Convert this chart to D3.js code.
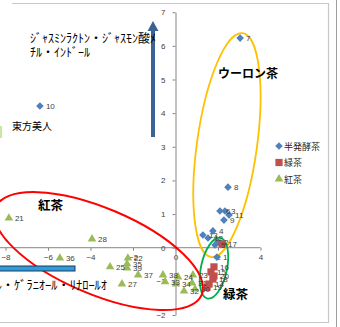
<!DOCTYPE html>
<html><head><meta charset="utf-8">
<script src="https://cdn.jsdelivr.net/npm/d3@7"></script>
<style>
html,body{margin:0;padding:0;background:#fff;}
svg{display:block;}
</style></head>
<body>
<script>
// ---- data ----
const semiLabels = [1,2,3,4,5,6,7,8,9,10,11,12,13];
const semiX = [1.95,2.00,2.33,1.76,1.86,2.09,3.04,2.47,2.28,-6.38,2.52,1.53,1.29];
const semiY = [-0.28,0.17,1.09,0.50,0.08,1.09,6.23,1.80,0.82,4.21,0.97,0.29,0.38];

const greenLabels = [14,15,16,17,18,19,20];
const greenX = [1.58,1.67,1.81,2.19,1.76,1.48,1.81];
const greenY = [-1.08,-0.72,-0.57,0.11,-0.93,-1.18,-0.84];

const blackLabels = [21,22,23,24,25,27,28,30,31,32,33,34,35,36,37,38,39];
const blackX = [-7.84,-2.24,0.82,0.12,-3.08,-2.52,-3.93,0.92,0.78,0.40,-0.49,0.02,-2.28,-5.44,-1.76,-0.59,-2.28];
const blackY = [0.88,-0.31,-0.81,-0.87,-0.57,-1.08,0.26,-1.23,-1.05,-1.29,-1.01,-1.08,-0.48,-0.31,-0.81,-0.81,-0.60];

const seriesNames = ["半発酵茶","緑茶","紅茶"];
const xTicks = [-10,-8,-6,-4,-2,0,2,4];
const yTicks = [-2,-1,0,1,2,3,4,5,6,7];

// ---- setup ----
const W = 340, H = 327;
const svg = d3.select("body").append("svg").attr("width", W).attr("height", H);
const x = d3.scaleLinear().domain([-10, 4]).range([-37, 260.5]);
const y = d3.scaleLinear().domain([-2, 7]).range([315, 12.2]);

const numFont = "'Liberation Sans', Arial, sans-serif";
const jpFont = "'Noto Sans CJK JP', sans-serif";

// chart border
svg.append("path").attr("d", "M12,3.5H328.5V322.5H0").attr("fill","none").attr("stroke","#c8c8c8").attr("stroke-width",1.2);
svg.append("line").attr("x1",336.5).attr("x2",336.5).attr("y1",0).attr("y2",H).attr("stroke","#a0a0a0").attr("stroke-width",1);

// axes
const axisColor = "#868686";
const gx = svg.append("g").attr("transform", `translate(0,${y(0)})`)
  .call(d3.axisBottom(x).tickValues(xTicks).tickSize(3).tickSizeOuter(0).tickPadding(4).tickFormat(d3.format("d")));
const gy = svg.append("g").attr("transform", `translate(${x(0)},0)`)
  .call(d3.axisLeft(y).tickValues(yTicks).tickSize(3).tickSizeOuter(0).tickPadding(7).tickFormat(d3.format("d")));
[gx, gy].forEach(g => {
  g.selectAll("path,line").attr("stroke", axisColor);
  g.selectAll("text").attr("fill", "#404040").style("font-family", numFont).style("font-size", "8px");
});
gx.select(".domain").attr("d", `M${x(-10)},0H${x(4)}`);

// ellipses (drawing-layer annotations, anchored in data space)
function ellipse(cx, cy, rx, ry, rot, color, sw) {
  svg.append("ellipse").attr("cx", 0).attr("cy", 0).attr("rx", rx).attr("ry", ry)
    .attr("transform", `translate(${x(cx)},${y(cy)}) rotate(${rot})`)
    .attr("fill", "none").attr("stroke", color).attr("stroke-width", sw);
}
ellipse(2.42, 3.05, 30, 113, 8, "#FFC000", 1.8);
ellipse(1.81, -0.61, 13, 31, 12, "#00B050", 1.8);
ellipse(-3.62, -0.10, 112, 43, 23, "#FF0000", 2);

// arrows
svg.append("rect").attr("x", 151).attr("y", 30).attr("width", 4).attr("height", 107).attr("fill", "#3D6294");
svg.append("path").attr("d", "M147.5,31 L153,21 L158.5,31 Z").attr("fill", "#3D6294");
svg.append("rect").attr("x", -5).attr("y", 266).attr("width", 80).attr("height", 5)
  .attr("fill", "#2E9BDA").attr("stroke", "#1F3B5A").attr("stroke-width", 1);
svg.append("rect").attr("x", 0).attr("y", 126).attr("width", 2).attr("height", 12).attr("fill", "#c8e8a0");

// markers
const diamondSym = { draw(ctx, size) { const r = Math.sqrt(size) / 2 * 1.2; ctx.moveTo(0, -r); ctx.lineTo(r, 0); ctx.lineTo(0, r); ctx.lineTo(-r, 0); ctx.closePath(); } };
const sym = {
  diamond: d3.symbol().type(diamondSym).size(40),
  square: d3.symbol().type(d3.symbolSquare).size(52),
  triangle: d3.symbol().type(d3.symbolTriangle).size(32)
};
const series = [
  {name: seriesNames[0], labels: semiLabels, xs: semiX, ys: semiY, color: "#4F81BD", s: sym.diamond},
  {name: seriesNames[1], labels: greenLabels, xs: greenX, ys: greenY, color: "#C0504D", s: sym.square},
  {name: seriesNames[2], labels: blackLabels, xs: blackX, ys: blackY, color: "#9BBB59", s: sym.triangle}
];
series.forEach(sr => {
  const pts = sr.labels.map((l, i) => ({l, x: sr.xs[i], y: sr.ys[i]}));
  const g = svg.append("g");
  g.selectAll("path").data(pts).join("path")
    .attr("d", sr.s).attr("fill", sr.color)
    .attr("transform", d => `translate(${x(d.x)},${y(d.y)})`);
});
series.forEach(sr => {
  const pts = sr.labels.map((l, i) => ({l, x: sr.xs[i], y: sr.ys[i]}));
  svg.append("g").selectAll("text").data(pts).join("text")
    .attr("x", d => x(d.x) + 6).attr("y", d => y(d.y) + 3)
    .attr("fill", "#404040").style("font-family", numFont).style("font-size", "8px")
    .text(d => d.l);
});

// legend
const lg = svg.append("g");
series.forEach((sr, i) => {
  const ly = 146 + i * 16.5;
  lg.append("path").attr("d", sr.s).attr("fill", sr.color).attr("transform", `translate(279,${ly})`);
  lg.append("text").attr("x", 284).attr("y", ly + 3.5).attr("fill", "#222")
    .style("font-family", jpFont).style("font-size", "9px").text(sr.name);
});

// text annotations
function txt(tx, ty, s, size, bold) {
  svg.append("text").attr("x", tx).attr("y", ty).attr("fill", "#000")
    .style("font-family", jpFont).style("font-size", size + "px")
    .style("font-weight", bold ? "bold" : "normal").text(s);
}
txt(30, 43, "ｼﾞｬｽﾐﾝﾗｸﾄﾝ・ｼﾞｬｽﾓﾝ酸ﾒ", 12, false);
txt(30, 57, "ﾁﾙ・ｲﾝﾄﾞｰﾙ", 12, false);
txt(12, 130, "東方美人", 10, false);
txt(-4.5, 290, "ﾙ・ｹﾞﾗﾆｵｰﾙ・ﾘﾅﾛｰﾙｵ", 12.4, false);
txt(38, 210, "紅茶", 12.5, true);
txt(218, 78, "ウーロン茶", 12, true);
txt(223, 299, "緑茶", 12.5, true);
</script>
</body></html>
